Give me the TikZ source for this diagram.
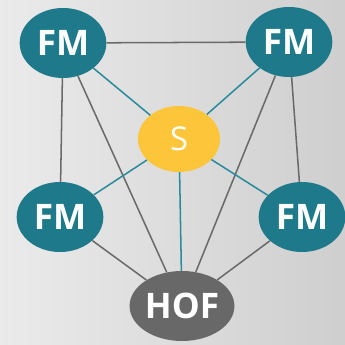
\documentclass[tikz,border=0pt]{standalone}
\usepackage{fontspec}
\setmainfont{Open Sans}
\usetikzlibrary{shapes.geometric}
\definecolor{fmteal}{HTML}{1E7A8B}
\definecolor{sgold}{HTML}{FDC53A}
\definecolor{hofgray}{HTML}{686868}
\definecolor{linkgray}{HTML}{6A6A6A}
\definecolor{linkteal}{HTML}{2A8B9B}

\begin{document}
\begin{tikzpicture}[x=0.03cm, y=-0.03cm,
    peer/.style={ellipse, fill=fmteal, text=white, inner sep=0pt,
      minimum width=2.6cm, minimum height=2.1cm,
      font=\fontsize{30}{34}\selectfont\bfseries},
    link/.style={draw=linkgray, line width=1.3pt},
    slink/.style={draw=linkteal, line width=1.3pt}]
    \useasboundingbox (0,0) rectangle (345,344);
    \shade [left color=gray!16, right color=gray!38] (0,0) rectangle (345,344);
    \node [peer] (fmtl) at (63,43) {FM};
    \node [peer] (fmtr) at (289,42) {FM};
    \node [peer] (fmml) at (60,217) {FM};
    \node [peer] (fmmr) at (302,217) {FM};
    \node [peer, fill=sgold, minimum width=2.46cm, minimum height=1.98cm,
      font=\fontsize{28}{32}\selectfont] (s) at (179,139) {S};
    \node [peer, fill=hofgray] (hof) at (182,306) {HOF};
    % outer ring
    \draw [link] (fmtl) -- (fmtr)
                 (fmtl) -- (fmml)
                 (fmtr) -- (fmmr)
                 (fmml) -- (hof)
                 (fmmr) -- (hof)
                 (fmtl) -- (hof)
                 (fmtr) -- (hof);
    % to the centre
    \draw [slink] (s) -- (fmtl)
                  (s) -- (fmtr)
                  (s) -- (fmml)
                  (s) -- (fmmr)
                  (s) -- (hof);
\end{tikzpicture}
\end{document}
